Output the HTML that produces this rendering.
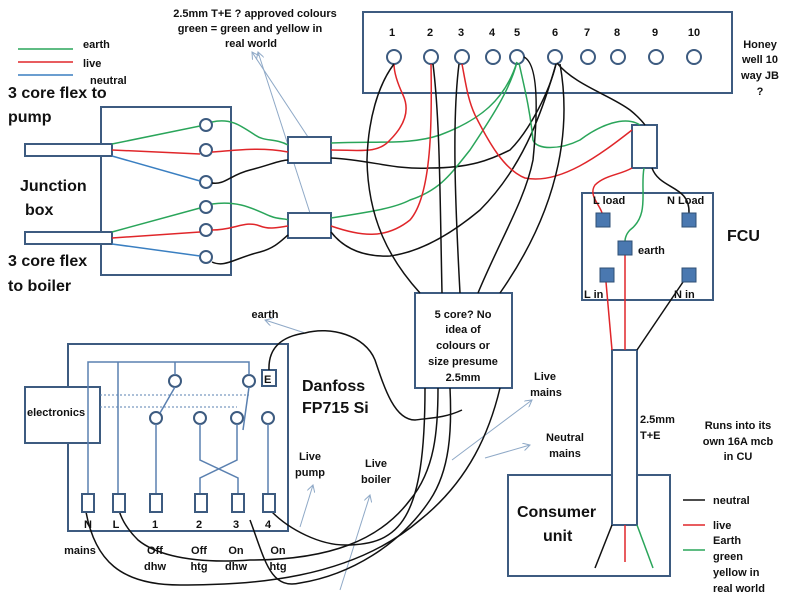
<!DOCTYPE html>
<html><head><meta charset="utf-8"><style>
html,body{margin:0;padding:0;background:#fff}
svg{display:block}
text{font-family:"Liberation Sans",sans-serif;font-weight:bold;fill:#111}
.s{font-size:11px}
.b{font-size:16px}
</style></head><body>
<svg width="800" height="600" viewBox="0 0 800 600" xmlns="http://www.w3.org/2000/svg">
<defs><marker id="a" markerWidth="8" markerHeight="8" refX="7" refY="4" orient="auto" markerUnits="userSpaceOnUse"><path d="M0 0 L7 4 L0 8" fill="none" stroke="#8fa9c7" stroke-width="1"/></marker></defs>
<g fill="none" stroke-width="1.6">
<line x1="18" y1="49" x2="73" y2="49" stroke="#2aa55a"/>
<line x1="18" y1="62" x2="73" y2="62" stroke="#e0262a"/>
<line x1="18" y1="75" x2="73" y2="75" stroke="#3a7fc1"/>
</g>
<text x="83" y="48" class="s">earth</text>
<text x="83" y="67" class="s">live</text>
<text x="90" y="84" class="s">neutral</text>
<text x="8" y="98" class="b">3 core flex to</text>
<text x="8" y="122" class="b">pump</text>
<text x="20" y="191" class="b">Junction</text>
<text x="25" y="215" class="b">box</text>
<text x="8" y="266" class="b">3 core flex</text>
<text x="8" y="291" class="b">to boiler</text>
<text x="255" y="17" class="s" text-anchor="middle">2.5mm T+E ?  approved colours</text>
<text x="250" y="32" class="s" text-anchor="middle">green = green and yellow in</text>
<text x="251" y="47" class="s" text-anchor="middle">real world</text>
<g stroke="#8fa9c7" stroke-width="1" fill="none">
<line x1="308" y1="137" x2="252" y2="52" marker-end="url(#a)"/><line x1="310" y1="213" x2="258" y2="52" marker-end="url(#a)"/>
<line x1="305" y1="333" x2="265" y2="320" marker-end="url(#a)"/>
<line x1="300" y1="527" x2="313" y2="485" marker-end="url(#a)"/>
<line x1="340" y1="590" x2="370" y2="495" marker-end="url(#a)"/>
<line x1="452" y1="460" x2="532" y2="400" marker-end="url(#a)"/>
<line x1="485" y1="458" x2="530" y2="445" marker-end="url(#a)"/>
</g>
<g fill="#fff" stroke="#3d5b80" stroke-width="2">
<rect x="101" y="107" width="130" height="168"/>
<rect x="25" y="144" width="87" height="12"/>
<rect x="25" y="232" width="87" height="12"/>
<rect x="288" y="137" width="43" height="26"/>
<rect x="288" y="213" width="43" height="25"/>
<rect x="363" y="12" width="369" height="81"/>
<rect x="632" y="125" width="25" height="43"/>
<rect x="582" y="193" width="131" height="107"/>
<rect x="508" y="475" width="162" height="101"/>
<rect x="612" y="350" width="25" height="175"/>
<rect x="415" y="293" width="97" height="95"/>
<rect x="68" y="344" width="220" height="187"/>
<rect x="25" y="387" width="75" height="56"/>
<rect x="262" y="370" width="14" height="16"/>
</g>
<g fill="#fff" stroke="#3d5b80" stroke-width="2">
<circle cx="206" cy="125" r="6"/><circle cx="206" cy="150" r="6"/><circle cx="206" cy="182" r="6"/>
<circle cx="206" cy="207" r="6"/><circle cx="206" cy="230" r="6"/><circle cx="206" cy="257" r="6"/>
<circle cx="394" cy="57" r="7"/><circle cx="431" cy="57" r="7"/><circle cx="462" cy="57" r="7"/>
<circle cx="493" cy="57" r="7"/><circle cx="517" cy="57" r="7"/><circle cx="555" cy="57" r="7"/>
<circle cx="588" cy="57" r="7"/><circle cx="618" cy="57" r="7"/><circle cx="656" cy="57" r="7"/>
<circle cx="694" cy="57" r="7"/>
<circle cx="175" cy="381" r="6"/><circle cx="249" cy="381" r="6"/>
<circle cx="156" cy="418" r="6"/><circle cx="200" cy="418" r="6"/><circle cx="237" cy="418" r="6"/><circle cx="268" cy="418" r="6"/>
</g>
<text x="392" y="36" class="s" text-anchor="middle">1</text><text x="430" y="36" class="s" text-anchor="middle">2</text>
<text x="461" y="36" class="s" text-anchor="middle">3</text><text x="492" y="36" class="s" text-anchor="middle">4</text>
<text x="517" y="36" class="s" text-anchor="middle">5</text><text x="555" y="36" class="s" text-anchor="middle">6</text>
<text x="587" y="36" class="s" text-anchor="middle">7</text><text x="617" y="36" class="s" text-anchor="middle">8</text>
<text x="655" y="36" class="s" text-anchor="middle">9</text><text x="694" y="36" class="s" text-anchor="middle">10</text>
<text x="760" y="48" class="s" text-anchor="middle">Honey</text>
<text x="760" y="63" class="s" text-anchor="middle">well 10</text>
<text x="760" y="79" class="s" text-anchor="middle">way JB</text>
<text x="760" y="95" class="s" text-anchor="middle">?</text>
<g fill="none" stroke-width="1.5">
<path d="M112 144 L200 126" stroke="#2aa55a"/><path d="M112 150 L200 154" stroke="#e0262a"/><path d="M112 156 L200 181" stroke="#3a7fc1"/>
<path d="M112 232 L200 208" stroke="#2aa55a"/><path d="M112 238 L200 232" stroke="#e0262a"/><path d="M112 244 L200 256" stroke="#3a7fc1"/>
<path d="M212 122 C230 118 240 125 255 135 C265 142 275 138 288 145" stroke="#2aa55a"/>
<path d="M212 152 C240 150 260 147 288 152" stroke="#e0262a"/>
<path d="M212 183 C225 185 230 175 250 170 C270 165 280 160 288 160" stroke="#111"/>
<path d="M212 204 C240 200 255 210 270 216 C280 220 285 218 288 220" stroke="#2aa55a"/>
<path d="M212 230 C235 230 245 220 260 226 C270 230 280 227 288 226" stroke="#e0262a"/>
<path d="M212 262 C225 268 235 258 260 252 C275 248 282 240 288 235" stroke="#111"/>
<!-- connector to JB terminals -->
<path d="M331 143 C380 141 410 145 440 135 C480 120 505 100 517 62" stroke="#2aa55a"/>
<path d="M331 150 C360 150 378 154 390 140 C405 125 410 110 403 95 C396 80 394 70 394 64" stroke="#e0262a"/>
<path d="M331 158 C370 160 395 170 430 168 C470 168 490 160 510 150 C530 130 550 90 556 64" stroke="#111"/>
<path d="M331 218 C370 212 395 208 410 200 C440 190 450 175 470 150 C490 120 510 90 517 62" stroke="#2aa55a"/>
<path d="M331 226 C360 236 385 240 410 220 C432 195 432 120 431 64" stroke="#e0262a"/>
<path d="M331 232 C345 250 365 257 390 256 C420 252 450 235 480 210 C520 170 540 120 556 64" stroke="#111"/>
<path d="M462 64 C466 85 468 100 475 115 C490 145 505 170 525 178 C560 185 600 155 632 130" stroke="#e0262a"/>
<path d="M519 63 C525 90 530 110 533 140 C536 150 560 150 580 140 C600 125 625 115 640 125" stroke="#2aa55a"/>
<path d="M557 63 C575 85 610 95 630 110 C640 118 645 125 645 125" stroke="#111"/>
<!-- black down to 5 core -->
<path d="M394 64 C378 85 368 120 367 160 C368 220 390 260 420 293" stroke="#111"/>
<path d="M433 64 C440 120 440 200 442 293" stroke="#111"/>
<path d="M459 64 C452 120 455 200 460 293" stroke="#111"/>
<path d="M524 57 C540 65 537 120 533 160 C525 200 500 240 478 293" stroke="#111"/>
<path d="M560 64 C570 120 565 200 500 293" stroke="#111"/>
<!-- FCU wires -->
<path d="M632 168 C620 175 605 175 595 185 C588 195 600 205 602 213" stroke="#e0262a"/>
<path d="M644 168 C640 190 650 215 630 230 C625 235 625 241 625 241" stroke="#2aa55a"/>
<path d="M652 168 C660 190 690 185 689 213" stroke="#111"/>
<path d="M606 282 L612 350" stroke="#e0262a"/>
<path d="M625 255 L625 350" stroke="#e0262a"/>
<path d="M683 282 L637 350" stroke="#111"/>
<path d="M612 525 L595 568" stroke="#111"/>
<path d="M625 525 L625 562" stroke="#e0262a"/>
<path d="M637 525 L653 568" stroke="#2aa55a"/>
<!-- 5 core down to danfoss -->
<path d="M269 370 C268 345 285 336 305 333 C330 326 365 335 375 360 C385 390 395 420 415 420 C430 418 445 418 462 410" stroke="#111"/>
<path d="M272 512 C290 530 320 545 345 545 C400 545 425 520 425 388" stroke="#111"/>
<path d="M438 388 C438 430 435 470 410 500 C380 540 330 560 250 560 C180 565 150 550 138 540 C118 520 118 505 118 503" stroke="#111"/>
<path d="M450 388 C452 430 450 470 430 500 C400 545 350 575 300 583 C270 590 265 560 250 520" stroke="#111"/>
<path d="M500 388 C490 430 470 480 420 520 C350 580 250 585 180 585 C120 585 95 560 86 512" stroke="#111"/>
</g>
<g fill="#4a78b0" stroke="#2f4f75" stroke-width="1">
<rect x="596" y="213" width="14" height="14"/><rect x="682" y="213" width="14" height="14"/>
<rect x="618" y="241" width="14" height="14"/><rect x="600" y="268" width="14" height="14"/><rect x="682" y="268" width="14" height="14"/>
</g>
<text x="593" y="204" class="s">L load</text><text x="667" y="204" class="s">N Load</text>
<text x="638" y="254" class="s">earth</text>
<text x="584" y="298" class="s">L in</text><text x="674" y="298" class="s">N in</text>
<text x="727" y="241" class="b">FCU</text>
<text x="517" y="517" class="b">Consumer</text><text x="543" y="541" class="b">unit</text>
<text x="640" y="423" class="s">2.5mm</text><text x="640" y="439" class="s">T+E</text>
<text x="738" y="429" class="s" text-anchor="middle">Runs into its</text>
<text x="738" y="445" class="s" text-anchor="middle">own 16A  mcb</text>
<text x="738" y="460" class="s" text-anchor="middle">in CU</text>
<g stroke-width="1.6"><line x1="683" y1="500" x2="705" y2="500" stroke="#111"/>
<line x1="683" y1="525" x2="705" y2="525" stroke="#e0262a"/>
<line x1="683" y1="550" x2="705" y2="550" stroke="#2aa55a"/></g>
<text x="713" y="504" class="s">neutral</text><text x="713" y="529" class="s">live</text>
<text x="713" y="544" class="s">Earth</text><text x="713" y="560" class="s">green</text>
<text x="713" y="576" class="s">yellow in</text><text x="713" y="592" class="s">real world</text>
<text x="463" y="318" class="s" text-anchor="middle">5 core? No</text>
<text x="463" y="333" class="s" text-anchor="middle">idea of</text>
<text x="463" y="349" class="s" text-anchor="middle">colours or</text>
<text x="463" y="365" class="s" text-anchor="middle">size presume</text>
<text x="463" y="381" class="s" text-anchor="middle">2.5mm</text>
<text x="545" y="380" class="s" text-anchor="middle">Live</text><text x="546" y="396" class="s" text-anchor="middle">mains</text>
<text x="565" y="441" class="s" text-anchor="middle">Neutral</text><text x="565" y="457" class="s" text-anchor="middle">mains</text>
<g fill="none" stroke="#5a80b0" stroke-width="1.5">
<path d="M88 494 L88 362 L249 362 L249 375"/>
<path d="M118 494 L118 362"/>
<path d="M175 362 L175 375"/>
<path d="M175 387 L160 413"/>
<path d="M156 424 L156 494"/>
<path d="M249 387 L243 430"/>
<path d="M200 424 L200 460 L238 478 L238 494"/>
<path d="M237 424 L237 460 L200 478 L200 494"/>
<path d="M268 424 L268 494"/>
<path d="M100 395 L249 395 M100 407 L237 407" stroke-dasharray="2 2" stroke-width="1"/>
</g>
<g fill="#fff" stroke="#3d5b80" stroke-width="2">
<rect x="82" y="494" width="12" height="18"/><rect x="113" y="494" width="12" height="18"/>
<rect x="150" y="494" width="12" height="18"/><rect x="195" y="494" width="12" height="18"/>
<rect x="232" y="494" width="12" height="18"/><rect x="263" y="494" width="12" height="18"/>
</g>
<text x="264" y="383" class="s">E</text>
<text x="27" y="416" class="s">electronics</text>
<text x="302" y="391" class="b">Danfoss</text><text x="302" y="413" class="b">FP715 Si</text>
<text x="88" y="528" class="s" text-anchor="middle">N</text><text x="116" y="528" class="s" text-anchor="middle">L</text>
<text x="155" y="528" class="s" text-anchor="middle">1</text><text x="199" y="528" class="s" text-anchor="middle">2</text>
<text x="236" y="528" class="s" text-anchor="middle">3</text><text x="268" y="528" class="s" text-anchor="middle">4</text>
<text x="80" y="554" class="s" text-anchor="middle">mains</text>
<text x="155" y="554" class="s" text-anchor="middle">Off</text><text x="155" y="570" class="s" text-anchor="middle">dhw</text>
<text x="199" y="554" class="s" text-anchor="middle">Off</text><text x="199" y="570" class="s" text-anchor="middle">htg</text>
<text x="236" y="554" class="s" text-anchor="middle">On</text><text x="236" y="570" class="s" text-anchor="middle">dhw</text>
<text x="278" y="554" class="s" text-anchor="middle">On</text><text x="278" y="570" class="s" text-anchor="middle">htg</text>
<text x="265" y="318" class="s" text-anchor="middle">earth</text>
<text x="310" y="460" class="s" text-anchor="middle">Live</text><text x="310" y="476" class="s" text-anchor="middle">pump</text>
<text x="376" y="467" class="s" text-anchor="middle">Live</text><text x="376" y="483" class="s" text-anchor="middle">boiler</text>
</svg>
</body></html>
